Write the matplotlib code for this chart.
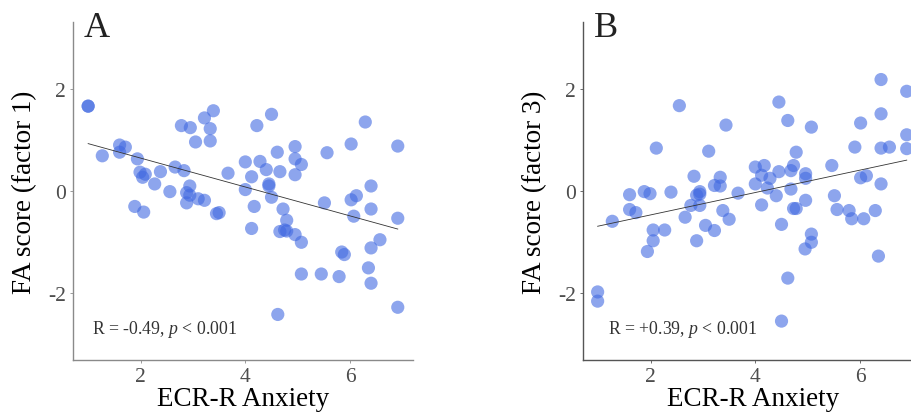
import numpy as np
import matplotlib
matplotlib.use("Agg")
import matplotlib.pyplot as plt

plt.rcParams['font.family'] = ['Liberation Serif', 'DejaVu Serif']
plt.rcParams['mathtext.fontset'] = 'custom'
plt.rcParams['mathtext.rm'] = 'Liberation Serif'
plt.rcParams['mathtext.it'] = 'Liberation Serif:italic'
plt.rcParams['axes.unicode_minus'] = False

# ---- data ----
anx_a = [1.00, 1.00, 1.27, 1.60, 1.71, 1.60, 1.94, 1.99, 2.09, 2.04, 2.27, 2.38, 2.56, 2.66,
         2.83, 2.78, 2.95, 3.05, 3.22, 3.39, 3.33, 3.33, 1.89, 2.06, 2.94, 2.88, 2.94, 2.88,
         3.10, 3.22, 3.45, 3.50, 3.67, 4.00, 4.00, 4.12, 4.28, 4.17, 4.12, 4.22, 4.50, 4.40,
         4.45, 4.45, 4.50, 4.61, 4.66, 4.72, 4.79, 4.66, 4.75, 4.79, 4.95, 4.95, 5.07, 4.95,
         4.95, 5.07, 5.07, 5.45, 5.56, 5.51, 5.79, 5.84, 5.89, 6.02, 6.02, 6.12, 6.07, 6.29,
         6.40, 6.40, 6.57, 6.40, 6.35, 6.40, 6.91, 6.91, 6.91, 4.62]
fa1 = [1.66, 1.66, 0.69, 0.90, 0.86, 0.76, 0.63, 0.37, 0.33, 0.27, 0.14, 0.38, -0.01, 0.47,
       0.40, 1.28, 1.24, 0.96, 1.43, 1.57, 1.22, 0.98, -0.30, -0.41, 0.10, -0.03, -0.08, -0.23,
       -0.15, -0.18, -0.44, -0.42, 0.35, 0.57, 0.03, 0.28, 0.58, -0.30, -0.73, 1.28, 1.50, 0.42,
       0.14, 0.10, -0.12, 0.76, 0.38, -0.35, -0.57, -0.79, -0.76, -0.78, 0.87, 0.63, 0.52, 0.32,
       -0.85, -1.00, -1.62, -1.62, 0.75, -0.23, -1.67, -1.19, -1.24, 0.92, -0.17, -0.09, -0.49, 1.35,
       0.10, -0.35, -0.95, -1.11, -1.50, -1.80, 0.88, -0.53, -2.27, -2.41]

anx_b = [0.99, 0.99, 1.27, 1.60, 1.60, 1.72, 1.88, 1.99, 1.94, 2.05, 2.05, 2.11, 2.27, 2.39,
         2.55, 2.66, 2.77, 2.83, 2.88, 2.94, 2.88, 2.94, 2.94, 3.05, 3.11, 3.22, 3.22, 3.33,
         3.33, 3.38, 3.50, 3.44, 3.67, 4.00, 4.00, 4.12, 4.12, 4.17, 4.23, 4.28, 4.40, 4.45,
         4.45, 4.50, 4.62, 4.62, 4.50, 4.68, 4.68, 4.73, 4.78, 4.73, 4.78, 4.96, 4.96, 4.96,
         5.07, 5.07, 5.07, 4.95, 5.46, 5.51, 5.56, 5.79, 5.84, 5.90, 6.01, 6.01, 6.12, 6.07,
         6.29, 6.35, 6.40, 6.40, 6.40, 6.56, 6.40, 6.89, 6.89, 6.89]
fa3 = [-1.97, -2.15, -0.59, -0.07, -0.36, -0.42, -0.01, -0.05, -1.18, -0.76, -0.97, 0.84, -0.76, -0.02,
       1.67, -0.51, -0.28, 0.29, -0.97, -0.01, -0.08, -0.06, -0.28, -0.67, 0.78, -0.77, 0.11, 0.27,
       0.10, -0.38, -0.55, 1.29, -0.04, 0.47, 0.14, -0.27, 0.31, 0.50, 0.06, 0.25, -0.09, 0.38,
       1.74, -0.65, 1.38, -1.70, -2.54, 0.04, 0.40, 0.50, 0.76, -0.34, -0.34, 0.34, 0.25, -0.18,
       1.25, -0.84, -1.00, -1.13, 0.50, -0.09, -0.36, -0.38, -0.54, 0.86, 1.33, 0.26, 0.30, -0.54,
       -0.38, -1.27, 2.18, 1.51, 0.84, 0.86, 0.14, 1.95, 1.10, 0.83]

panels = ['A', 'B']
ylabels = ['FA score (factor 1)', 'FA score (factor 3)']
xlabel = 'ECR-R Anxiety'
stats = [r'R = -0.49, $\it{p}$ < 0.001', r'R = +0.39, $\it{p}$ < 0.001']
xticks = [2, 4, 6]
yticks = [-2, 0, 2]

W, H = 912, 414
fig = plt.figure(figsize=(W / 100, H / 100), dpi=100)

axes_px = [(72.7, 22.7, 340.0, 338.3), (582.7, 22.7, 340.0, 338.3)]
spine_col = ['#8a8a8a', '#555555']
letter_px = [84, 594]
stat_x = [1.08, 1.19]

for i, (xs, ys) in enumerate([(anx_a, fa1), (anx_b, fa3)]):
    l, t, w, h = axes_px[i]
    ax = fig.add_axes([l / W, 1 - (t + h) / H, w / W, h / H])
    xs = np.asarray(xs); ys = np.asarray(ys)
    ax.scatter(xs, ys, s=90, color='#4169E1', alpha=0.6, edgecolors='none', zorder=2)
    k, b = np.polyfit(xs, ys, 1)
    xx = np.array([xs.min(), xs.max()])
    ax.plot(xx, k * xx + b, color='#333333', lw=0.6, zorder=3)
    ax.set_xlim(0.705, 7.195)
    ax.set_ylim(-3.3, 3.31)
    ax.set_xticks(xticks)
    ax.set_yticks(yticks)
    ax.tick_params(length=2.5, width=0.6, color=spine_col[i], labelsize=15.5,
                   labelcolor='#4d4d4d', pad=2.5)
    for s in ['top', 'right']:
        ax.spines[s].set_visible(False)
    for s in ['left', 'bottom']:
        ax.spines[s].set_color(spine_col[i])
        ax.spines[s].set_linewidth(1.0)
    ax.set_xlabel(xlabel, fontsize=19.5, color='black')
    ax.set_ylabel(ylabels[i], fontsize=19.5, color='black')
    ax.xaxis.set_label_coords(0.5, -0.078)
    ax.yaxis.set_label_coords(-0.105, 0.5)
    ax.text(stat_x[i], -2.77, stats[i], fontsize=12.8, color='#333333',
            ha='left', va='baseline')
    fig.text(letter_px[i] / W, 1 - 37 / H, panels[i], fontsize=26, color='#222222',
             ha='left', va='baseline')

fig.savefig('out.png', dpi=100)
